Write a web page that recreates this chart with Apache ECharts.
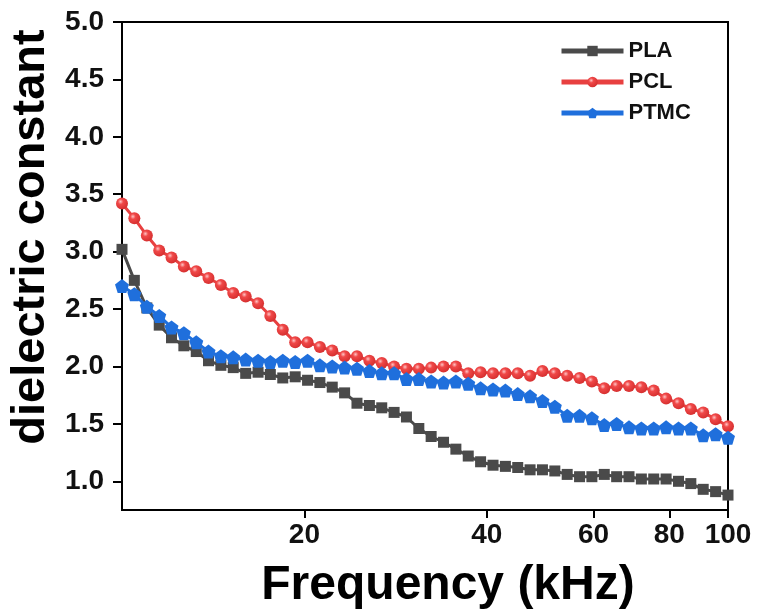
<!DOCTYPE html>
<html>
<head>
<meta charset="utf-8">
<script src="https://cdn.jsdelivr.net/npm/echarts@6/dist/echarts.min.js"></script>
<style>html,body{margin:0;padding:0;background:#fff;}#chart{width:760px;height:616px;}</style>
</head>
<body>
<div id="chart"></div>
<script>
// Frequencies (kHz)
var freq = [10.00,10.48,10.99,11.52,12.07,12.65,13.26,13.89,14.56,15.26,
            16.00,16.77,17.57,18.42,19.31,20.24,21.21,22.23,23.30,24.42,
            25.60,26.83,28.12,29.47,30.89,32.37,33.93,35.56,37.27,39.06,
            40.95,42.92,44.98,47.14,49.41,51.79,54.28,56.89,59.62,62.49,
            65.50,68.65,71.95,75.41,79.04,82.86,86.83,91.01,95.40,100.0];
var PLA = [3.02,2.75,2.51,2.36,2.25,2.18,2.13,2.05,2.01,1.99,
           1.94,1.95,1.93,1.90,1.91,1.88,1.86,1.82,1.77,1.68,
           1.66,1.64,1.60,1.56,1.46,1.39,1.34,1.28,1.22,1.17,
           1.14,1.13,1.12,1.10,1.10,1.09,1.06,1.04,1.04,1.06,
           1.04,1.04,1.02,1.02,1.02,1.00,0.98,0.93,0.91,0.88];
var PCL = [3.42,3.29,3.14,3.01,2.95,2.87,2.83,2.77,2.71,2.64,
           2.61,2.55,2.44,2.32,2.21,2.21,2.17,2.14,2.09,2.09,
           2.05,2.03,2.00,1.98,1.98,1.99,2.00,2.00,1.94,1.95,
           1.94,1.94,1.94,1.92,1.96,1.94,1.92,1.90,1.87,1.81,
           1.83,1.83,1.82,1.79,1.72,1.68,1.63,1.60,1.54,1.48];
var PTMC = [2.70,2.63,2.52,2.44,2.34,2.29,2.21,2.13,2.09,2.08,
            2.06,2.05,2.04,2.05,2.04,2.05,2.01,2.00,1.99,1.98,
            1.96,1.94,1.94,1.89,1.89,1.87,1.86,1.87,1.85,1.81,
            1.80,1.79,1.76,1.74,1.70,1.65,1.57,1.57,1.55,1.49,
            1.50,1.47,1.46,1.46,1.47,1.46,1.46,1.40,1.41,1.38];
var xTicks = [20, 40, 60, 80, 100];
var yTicks = [1.0, 1.5, 2.0, 2.5, 3.0, 3.5, 4.0, 4.5, 5.0];
var seriesNames = ['PLA', 'PCL', 'PTMC'];

function pairs(ys){ return ys.map(function(v,i){ return [freq[i], v]; }); }

var chart = echarts.init(document.getElementById('chart'), null, {renderer:'canvas'});
var font = 'Liberation Sans, Arial, sans-serif';
var pentagon = 'path://M0,-1L0.951,-0.309L0.588,0.809L-0.588,0.809L-0.951,-0.309Z';
var redBall = {type:'radial', x:0.38, y:0.35, r:0.75, colorStops:[
  {offset:0, color:'#ffc4c4'},{offset:0.3, color:'#f04848'},{offset:1, color:'#d02a2a'}]};

chart.setOption({
  animation:false,
  backgroundColor:'#fff',
  grid:{left:122, right:32, top:22, bottom:106, show:true, borderColor:'#000', borderWidth:2,
        containLabel:false, outerBoundsMode:'none'},
  legend:{
    orient:'vertical', left:554, top:35, itemWidth:62, itemHeight:13, itemGap:9,
    lineStyle:{width:5},
    textStyle:{fontFamily:font, fontWeight:'bold', fontSize:22, color:'#111'},
    data:seriesNames
  },
  xAxis:{
    type:'log', logBase:10, min:10, max:100,
    name:'Frequency (kHz)', nameLocation:'middle', nameGap:52,
    nameTextStyle:{fontFamily:font, fontWeight:'bold', fontSize:48, color:'#000', padding:[0,0,0,46]},
    axisLine:{lineStyle:{color:'#000', width:2}},
    axisTick:{show:true, length:8, lineStyle:{width:2, color:'#000'}, customValues:xTicks},
    axisLabel:{fontFamily:font, fontWeight:'bold', fontSize:28, color:'#111', margin:11, customValues:xTicks},
    minorTick:{show:false},
    splitLine:{show:false}
  },
  yAxis:{
    type:'value', min:0.75, max:5.0,
    name:'dielectric constant', nameLocation:'middle', nameGap:64,
    nameTextStyle:{fontFamily:font, fontWeight:'bold', fontSize:47, color:'#000', padding:[0,0,0,58]},
    axisLine:{lineStyle:{color:'#000', width:2}},
    axisTick:{show:true, length:9, lineStyle:{width:2, color:'#000'}, customValues:yTicks},
    axisLabel:{fontFamily:font, fontWeight:'bold', fontSize:28, color:'#111', margin:18,
      customValues:yTicks, formatter:function(v){return Number(v).toFixed(1);}},
    splitLine:{show:false}
  },
  series:[
    {name:'PLA', type:'line', data:pairs(PLA), symbol:'rect', symbolSize:11,
     lineStyle:{color:'#4a4a4a', width:3}, itemStyle:{color:'#4a4a4a'}, z:2},
    {name:'PCL', type:'line', data:pairs(PCL), symbol:'circle', symbolSize:12,
     lineStyle:{color:'#e84040', width:3}, itemStyle:{color:redBall}, z:3},
    {name:'PTMC', type:'line', data:pairs(PTMC), symbol:pentagon, symbolSize:14,
     lineStyle:{color:'#1f6fdc', width:3}, itemStyle:{color:'#1f6fdc'}, z:4}
  ]
});
</script>
</body>
</html>
